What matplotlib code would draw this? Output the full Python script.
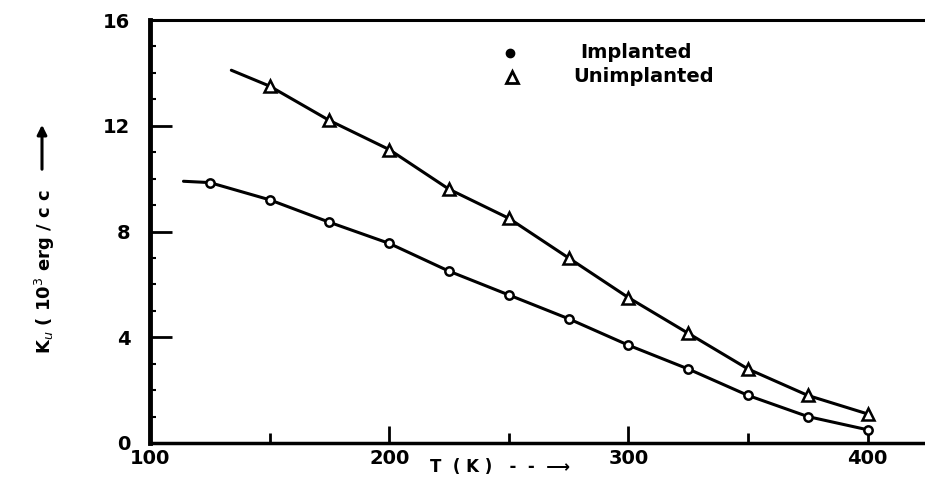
import matplotlib
matplotlib.use("Agg")
import matplotlib.pyplot as plt
from matplotlib.ticker import MultipleLocator

# ---- data ----
# Unimplanted: smooth curve starts at ~134 K, measured points every 25 K from 150 K
unimpl_T = [134, 150, 175, 200, 225, 250, 275, 300, 325, 350, 375, 400]
unimpl_K = [14.1, 13.5, 12.2, 11.1, 9.6, 8.5, 7.0, 5.5, 4.15, 2.8, 1.8, 1.1]
# Implanted: curve starts at ~114 K, points every 25 K from 125 K
impl_T = [114, 125, 150, 175, 200, 225, 250, 275, 300, 325, 350, 375, 400]
impl_K = [9.9, 9.85, 9.2, 8.35, 7.55, 6.5, 5.6, 4.7, 3.7, 2.8, 1.8, 1.0, 0.5]

x_ticks = [100, 200, 300, 400]
y_ticks = [0, 4, 8, 12, 16]
legend_labels = ["Implanted", "Unimplanted"]

W, H = 925, 478
fig = plt.figure(figsize=(W / 100, H / 100), dpi=100)
left, right, bottom, top = 150, 925, 443, 20
ax = fig.add_axes([left / W, 1 - bottom / H, (right - left) / W, (bottom - top) / H])

ax.set_xlim(100, 424)
ax.set_ylim(0, 16)

ax.plot(unimpl_T, unimpl_K, color="black", lw=2.2, marker="^", ms=9,
        mfc="white", mec="black", mew=1.8, markevery=list(range(1, len(unimpl_T))),
        solid_capstyle="round", solid_joinstyle="round")
ax.plot(impl_T, impl_K, color="black", lw=2.2, marker="o", ms=6,
        mfc="white", mec="black", mew=1.8, markevery=list(range(1, len(impl_T))),
        solid_capstyle="round", solid_joinstyle="round")

# spines
ax.spines["right"].set_visible(False)
ax.spines["left"].set_linewidth(3.5)
ax.spines["bottom"].set_linewidth(2.5)
ax.spines["top"].set_linewidth(2.2)

# ticks
ax.set_xticks(x_ticks)
ax.set_yticks(y_ticks)
ax.xaxis.set_minor_locator(MultipleLocator(50))
ax.yaxis.set_minor_locator(MultipleLocator(1))
ax.tick_params(axis="both", which="major", direction="in", width=2, length=12,
               labelsize=14, colors="black", top=False, right=False)
ax.tick_params(axis="x", which="minor", direction="in", width=2, length=7, top=False)
ax.tick_params(axis="y", which="minor", direction="in", width=1.5, length=4, right=False)
ax.tick_params(axis="y", which="major", length=16, pad=14)
ax.tick_params(axis="x", which="major", pad=4)
for lab in ax.get_xticklabels() + ax.get_yticklabels():
    lab.set_fontweight("bold")

# legend (manual, as in the reference)
ax.plot([100 + (510 - 150) / 2.39], [(443 - 52) / 26.5], marker="o", ms=6,
        color="black", clip_on=False)
ax.plot([100 + (512 - 150) / 2.39], [(443 - 76) / 26.5], marker="^", ms=8,
        mfc="white", mec="black", mew=2, clip_on=False)
fig.text(580 / W, 1 - 52 / H, legend_labels[0], fontsize=14, fontweight="bold",
         va="center", ha="left")
fig.text(573 / W, 1 - 76 / H, legend_labels[1], fontsize=14, fontweight="bold",
         va="center", ha="left")

# y label with arrow
fig.text(45 / W, 1 - 272 / H, r"K$_u$ ( 10$^3$ erg / c c", rotation=90,
         fontsize=13, fontweight="bold", ha="center", va="center")
fig.add_artist(matplotlib.patches.FancyArrowPatch(
    (42 / W, 1 - 172 / H), (42 / W, 1 - 122 / H), transform=fig.transFigure,
    arrowstyle="-|>", mutation_scale=14, lw=2.2, color="black"))

# x label at the bottom edge
fig.text(500 / W, 1 - 476 / H, "T  ( K )   -  -  ⟶", fontsize=12, fontweight="bold",
         ha="center", va="bottom")

fig.savefig("out.png", dpi=100)
